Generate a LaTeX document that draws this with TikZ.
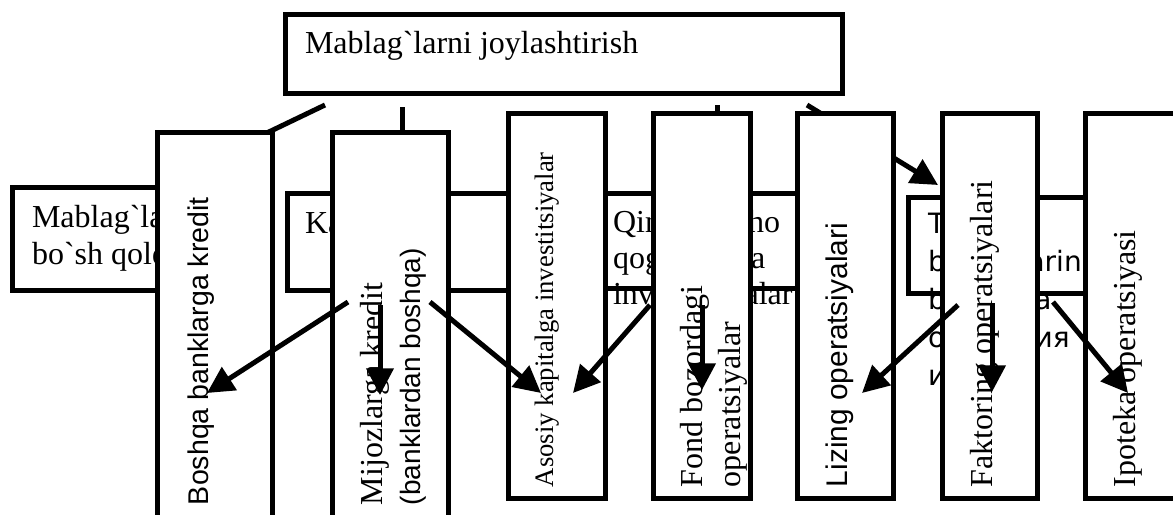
\documentclass[tikz,border=0pt]{standalone}
\usepackage{fontspec}
\setmainfont{Liberation Serif}[Ligatures=TeXOff]
\setsansfont{Liberation Sans}[Ligatures=TeXOff]
\newfontfamily\dejavu{DejaVu Sans}[Ligatures=TeXOff]
\usetikzlibrary{arrows.meta}
\begin{document}
\begin{tikzpicture}[x=0.75pt,y=-0.75pt,
  box/.style={draw, line width=3.75pt, fill=white, inner sep=0pt, outer sep=0pt, anchor=north west},
  txt/.style={inner sep=0pt, outer sep=0pt, anchor=base west, align=left},
  vtxt/.style={inner sep=0pt, outer sep=0pt, anchor=base west, rotate=90, align=left},
  arr/.style={line width=3.75pt, -{Triangle[length=20pt,width=20pt]}},
  serif24/.style={font=\fontsize{24}{27.75}\selectfont}]
\clip (0,0) rectangle (1173,514);
\fill[white] (0,0) rectangle (1173,514);
% wide boxes (behind); multi-line text nodes are anchored at their last baseline
\node[box, minimum width=238*0.75pt, minimum height=103*0.75pt] (mab) at (12,187) {};
\node[txt, serif24] (mabt) at (32,264) {Mablag`larni\\bo`sh qoldirish};
\node[box, minimum width=293*0.75pt, minimum height=97*0.75pt] (kb) at (287,193) {};
\node[txt, serif24] (kbt) at (305,233) {Kassa};
\node[box, minimum width=276*0.75pt, minimum height=95*0.75pt] (qi) at (594,193) {};
\node[txt, font=\fontsize{24}{27}\selectfont] (qit) at (613,304) {Qimmatbaho\\qog`ozlarga\\investitsiyalar};
\node[box, minimum width=212*0.75pt, minimum height=96*0.75pt] (tb) at (908,197) {};
\node[txt, font=\dejavu\fontsize{21}{28.5}\selectfont] (tbt) at (928,385) {Tijorat\\bo`limlarini\\bo`yicha\\операция\\и};
% top box
\node[box, minimum width=557*0.75pt, minimum height=79*0.75pt] (top) at (285,14) {};
\node[txt, serif24] (topt) at (305,53) {Mablag`larni joylashtirish};
% connectors from the top box (partly hidden)
\coordinate (c1s) at (325,105); \coordinate (c1e) at (200,165);
\coordinate (c2s) at (402,107); \coordinate (c2e) at (402,175);
\coordinate (c3s) at (717,105); \coordinate (c3e) at (717,160);
\coordinate (c4s) at (807,105); \coordinate (c4e) at (938,185);
\draw[arr] (c1s) -- (c1e);
\draw[arr] (c2s) -- (c2e);
\draw[arr] (c3s) -- (c3e);
\draw[arr] (c4s) -- (c4e);
% tall boxes
\node[box, minimum width=115*0.75pt, minimum height=400*0.75pt] (bosh) at (157,132) {};
\node[vtxt, font=\sffamily\fontsize{21.4}{25}\selectfont] (bosht) at (208,505) {Boshqa banklarga kredit};
\node[box, minimum width=116*0.75pt, minimum height=400*0.75pt] (mij) at (332,132) {};
\node[vtxt, font=\fontsize{24}{28.5}\selectfont] (mijt) at (420,505) {Mijozlarga kredit\\{\sffamily\fontsize{21}{28.5}\selectfont (banklardan boshqa)}};
\node[box, minimum width=97*0.75pt, minimum height=385*0.75pt] (aso) at (508,113) {};
\node[vtxt, font=\fontsize{20}{24}\selectfont] (asot) at (553,487) {Asosiy kapitalga investitsiyalar};
\node[box, minimum width=97*0.75pt, minimum height=385*0.75pt] (fond) at (653,113) {};
\node[vtxt, font=\fontsize{24}{28.5}\selectfont] (fondt) at (740,487) {Fond bozordagi\\operatsiyalar};
\node[box, minimum width=96*0.75pt, minimum height=385*0.75pt] (liz) at (797,113) {};
\node[vtxt, font=\sffamily\fontsize{22.4}{26}\selectfont] (lizt) at (847,487) {Lizing operatsiyalari};
\node[box, minimum width=95*0.75pt, minimum height=385*0.75pt] (fak) at (942,113) {};
\node[vtxt, font=\fontsize{24}{28}\selectfont] (fakt) at (992,487) {Faktoring operatsiyalari};
\node[box, minimum width=150*0.75pt, minimum height=385*0.75pt] (ipo) at (1085,113) {};
\node[vtxt, font=\fontsize{24}{28}\selectfont] (ipot) at (1135,487) {Ipoteka operatsiyasi};
% lower arrows
\coordinate (a1s) at (348,302); \coordinate (a1e) at (207,393);
\coordinate (a2s) at (380,305); \coordinate (a2e) at (380,395);
\coordinate (a3s) at (430,302); \coordinate (a3e) at (541,393);
\coordinate (a4s) at (650,305); \coordinate (a4e) at (573,393);
\coordinate (a5s) at (702,305); \coordinate (a5e) at (702,390);
\coordinate (a6s) at (958,305); \coordinate (a6e) at (862,393);
\coordinate (a7s) at (992,303); \coordinate (a7e) at (992,392);
\coordinate (a8s) at (1053,302); \coordinate (a8e) at (1128,393);
\draw[arr] (a1s) -- (a1e);
\draw[arr] (a2s) -- (a2e);
\draw[arr] (a3s) -- (a3e);
\draw[arr] (a4s) -- (a4e);
\draw[arr] (a5s) -- (a5e);
\draw[arr] (a6s) -- (a6e);
\draw[arr] (a7s) -- (a7e);
\draw[arr] (a8s) -- (a8e);
\end{tikzpicture}
\end{document}
